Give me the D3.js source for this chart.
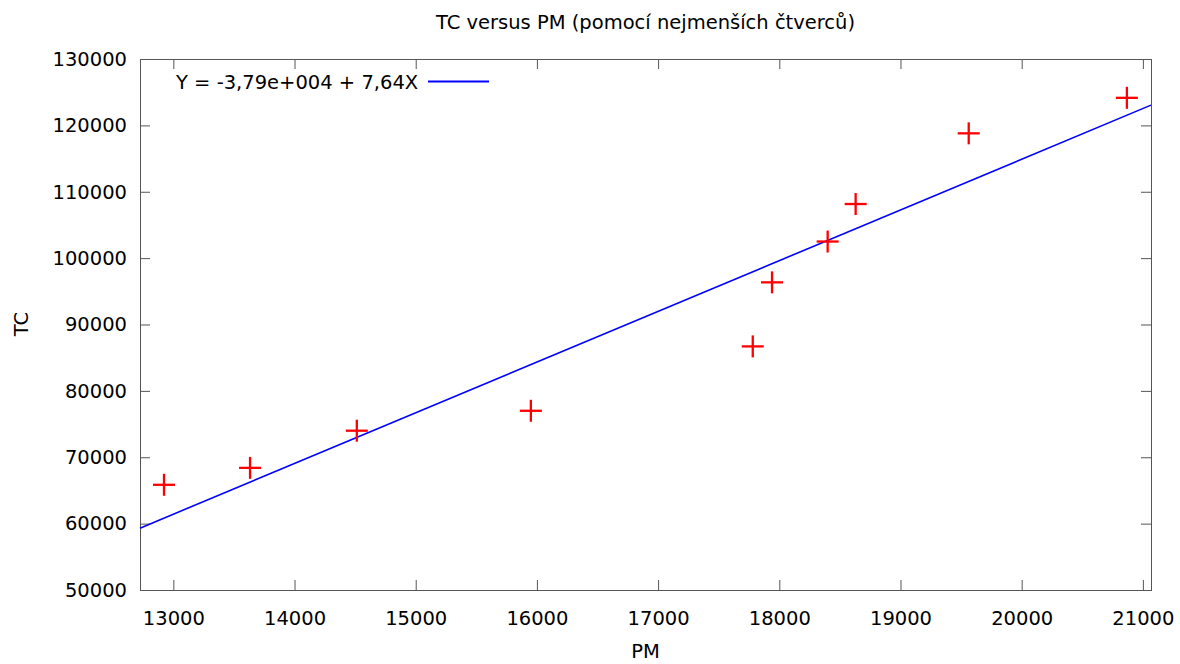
<!DOCTYPE html>
<html>
<head>
<meta charset="utf-8">
<script src="https://cdn.jsdelivr.net/npm/d3@7"></script>
<style>
  body { margin: 0; background: #fff; }
  svg { display: block; }
  text { font-family: "DejaVu Sans", Verdana, sans-serif; }
</style>
</head>
<body>
<svg id="chart"></svg>
<script>
// data
const pm = [12923, 13633, 14514, 15950, 17781, 17940, 18399, 18630, 19563, 20868];
const tc = [65850, 68400, 74000, 77000, 86700, 96350, 102500, 108150, 118800, 124150];
const xTicks = [13000, 14000, 15000, 16000, 17000, 18000, 19000, 20000, 21000];
const yTicks = [50000, 60000, 70000, 80000, 90000, 100000, 110000, 120000, 130000];
// fitted line Y = a + bX
const fitA = -37900;
const fitB = 7.64;
const legendText = 'Y = -3,79e+004 + 7,64X';
const titleText = 'TC versus PM (pomocí nejmenších čtverců)';

const W = 1180, H = 664;
const margin = {top: 59, right: 29, bottom: 74, left: 140};
const width = W - margin.left - margin.right;
const height = H - margin.top - margin.bottom;
const fontFam = '"DejaVu Sans", Verdana, sans-serif';
const fontSize = 19.5;

const svg = d3.select('#chart').attr('width', W).attr('height', H);

const x = d3.scaleLinear().domain([12725, 21067]).range([0, width]);
const y = d3.scaleLinear().domain([50000, 130000]).range([height, 0]);

const g = svg.append('g').attr('transform', 'translate(' + margin.left + ',' + margin.top + ')');

const frameColor = '#555';
const tickLen = 10;

// ticks on all four sides, pointing inward
function styleAxis(sel) {
  sel.attr('font-family', fontFam).attr('font-size', fontSize);
  sel.select('.domain').remove();
  sel.selectAll('.tick line').attr('stroke', frameColor).attr('stroke-width', 1);
  sel.selectAll('.tick text').attr('fill', '#000');
}

g.append('g')
  .attr('transform', 'translate(0,' + height + ')')
  .call(d3.axisBottom(x).tickValues(xTicks).tickFormat(d3.format('d')).tickSizeInner(-tickLen).tickPadding(21))
  .call(styleAxis);

g.append('g')
  .call(d3.axisTop(x).tickValues(xTicks).tickFormat('').tickSizeInner(-tickLen))
  .call(styleAxis);

g.append('g')
  .call(d3.axisLeft(y).tickValues(yTicks).tickFormat(d3.format('d')).tickSizeInner(-tickLen).tickPadding(13))
  .call(styleAxis);

g.append('g')
  .attr('transform', 'translate(' + width + ',0)')
  .call(d3.axisRight(y).tickValues(yTicks).tickFormat('').tickSizeInner(-tickLen))
  .call(styleAxis);

// frame
g.append('rect')
  .attr('x', 0.5).attr('y', 0.5)
  .attr('width', width).attr('height', height)
  .attr('fill', 'none')
  .attr('stroke', frameColor)
  .attr('stroke-width', 1);

// regression line
const xd = x.domain();
const line = d3.line().x(d => x(d)).y(d => y(fitA + fitB * d));
g.append('path')
  .datum(xd)
  .attr('d', line)
  .attr('fill', 'none')
  .attr('stroke', '#0000ff')
  .attr('stroke-width', 1.6);

// points as plus marks
const plusSize = 11;
const pts = g.append('g').attr('stroke', '#ff0000').attr('stroke-width', 2.3);
pm.forEach((v, i) => {
  const cx = x(v), cy = y(tc[i]);
  pts.append('line').attr('x1', cx - plusSize).attr('x2', cx + plusSize).attr('y1', cy).attr('y2', cy);
  pts.append('line').attr('x1', cx).attr('x2', cx).attr('y1', cy - plusSize).attr('y2', cy + plusSize);
});

// legend
svg.append('text')
  .attr('x', 176).attr('y', 88.5)
  .attr('font-size', fontSize)
  .text(legendText);
svg.append('line')
  .attr('x1', 428).attr('x2', 489)
  .attr('y1', 81.5).attr('y2', 81.5)
  .attr('stroke', '#0000ff').attr('stroke-width', 2);

// title and axis labels
svg.append('text')
  .attr('x', margin.left + width / 2).attr('y', 29)
  .attr('text-anchor', 'middle')
  .attr('font-size', fontSize)
  .text(titleText);

svg.append('text')
  .attr('x', margin.left + width / 2).attr('y', 658)
  .attr('text-anchor', 'middle')
  .attr('font-size', fontSize)
  .text('PM');

svg.append('text')
  .attr('transform', 'translate(28,324) rotate(-90)')
  .attr('text-anchor', 'middle')
  .attr('font-size', fontSize)
  .text('TC');
</script>
</body>
</html>
